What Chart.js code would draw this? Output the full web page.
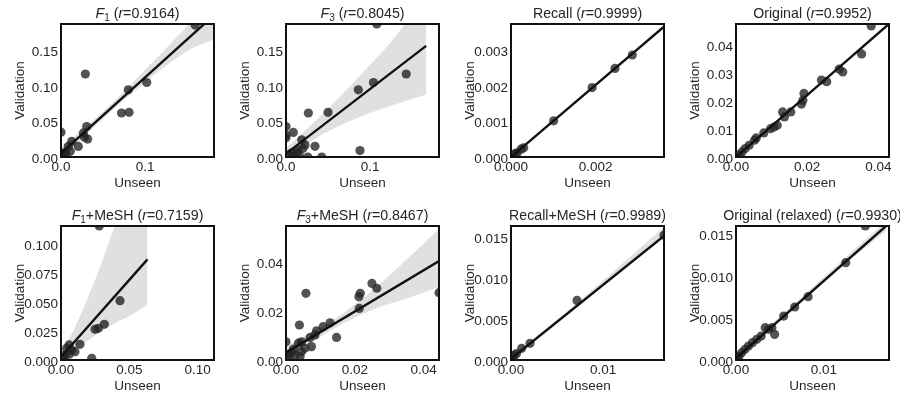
<!DOCTYPE html>
<html><head><meta charset="utf-8">
<script src="https://cdn.jsdelivr.net/npm/chart.js@4.4.0/dist/chart.umd.min.js"></script>
<style>
body{margin:0;background:#fff;width:907px;height:398px;overflow:hidden;position:relative}
canvas{position:absolute}
</style>
</head><body>
<canvas id="c1"></canvas><canvas id="c2"></canvas><canvas id="c3"></canvas><canvas id="c4"></canvas>
<canvas id="c5"></canvas><canvas id="c6"></canvas><canvas id="c7"></canvas><canvas id="c8"></canvas>
<script>
// ---------- Panel 1: F1 ----------
const p1Title = [["F","i"],["1","sub"],[" ("],["r","i"],["=0.9164)"]];
const p1X = [0.1595,0.102,0.080,0.072,0.081,0.029,0.0306,0.0266,0.0317,0.028,0.0206,0.0127,0.0,0.0087,0.0048,0.011,0.0028,0.003,0.001,0.006];
const p1Y = [0.186,0.105,0.0947,0.062,0.063,0.117,0.043,0.034,0.0253,0.028,0.0149,0.022,0.035,0.015,0.0056,0.008,0.001,0.006,0.002,0.003];
const p1XMax = 0.182, p1YMax = 0.1875;
const p1XTicks = [0,0.1], p1XLabels = ["0.0","0.1"];
const p1YTicks = [0,0.05,0.1,0.15], p1YLabels = ["0.00","0.05","0.10","0.15"];
const p1LineX = [0,0.182], p1LineY = [0.005,0.2];
const p1BandX = [0,0.05,0.1,0.15,0.182];
const p1BandLo = [-0.003,0.054,0.105,0.149,0.166];
const p1BandHi = [0.013,0.064,0.123,0.185,0.232];

// ---------- Panel 2: F3 ----------
const p2Title = [["F","i"],["3","sub"],[" ("],["r","i"],["=0.8045)"]];
const p2X = [0.108,0.143,0.104,0.086,0.088,0.050,0.0266,0.0345,0.0425,0.026,0.0087,0.0,0.0,0.0,0.0187,0.0226,0.020,0.014,0.013,0.007,0.0087,0.003,0.016];
const p2Y = [0.1875,0.117,0.105,0.0947,0.009,0.063,0.062,0.015,0.0,0.0,0.0346,0.043,0.031,0.027,0.0243,0.017,0.012,0.010,0.006,0.006,0.001,0.003,0.002];
const p2XMax = 0.182, p2YMax = 0.1875;
const p2XTicks = [0,0.1], p2XLabels = ["0.0","0.1"];
const p2YTicks = [0,0.05,0.1,0.15], p2YLabels = ["0.00","0.05","0.10","0.15"];
const p2LineX = [0,0.1667], p2LineY = [0.0047,0.1566];
const p2BandX = [0,0.03,0.06,0.1,0.13,0.1667];
const p2BandLo = [-0.005,0.022,0.042,0.062,0.074,0.088];
const p2BandHi = [0.012,0.045,0.08,0.13,0.17,0.23];

// ---------- Panel 3: Recall ----------
const p3Title = [["Recall ("],["r","i"],["=0.9999)"]];
const p3X = [0.00287,0.00246,0.00192,0.00101,0.0003,0.00024,0.0001,0.00005,0.00015];
const p3Y = [0.00288,0.0025,0.00196,0.00102,0.00026,0.00022,0.0001,0.00005,0.00012];
const p3XMax = 0.00362, p3YMax = 0.003755;
const p3XTicks = [0,0.002], p3XLabels = ["0.000","0.002"];
const p3YTicks = [0,0.001,0.002,0.003], p3YLabels = ["0.000","0.001","0.002","0.003"];
const p3LineX = [0,0.00362], p3LineY = [0,0.00368];
const p3BandX = [0,0.0018,0.00362];
const p3BandLo = [-0.00002,0.00182,0.00364];
const p3BandHi = [0.00002,0.00186,0.00373];

// ---------- Panel 4: Original ----------
const p4Title = [["Original ("],["r","i"],["=0.9952)"]];
const p4X = [0.0380,0.0353,0.0290,0.0300,0.0240,0.0255,0.0191,0.0188,0.0184,0.0154,0.0131,0.0136,0.0116,0.0107,0.0097,0.0078,0.0057,0.0052,0.0037,0.0026,0.0017,0.0009];
const p4Y = [0.0468,0.0368,0.0314,0.0304,0.0275,0.0269,0.0227,0.0203,0.0189,0.0161,0.0161,0.0143,0.0113,0.0107,0.0101,0.0086,0.0068,0.006,0.0042,0.003,0.0018,0.0008];
const p4XMax = 0.043, p4YMax = 0.0475;
const p4XTicks = [0,0.02,0.04], p4XLabels = ["0.00","0.02","0.04"];
const p4YTicks = [0,0.01,0.02,0.03,0.04], p4YLabels = ["0.00","0.01","0.02","0.03","0.04"];
const p4LineX = [0,0.043], p4LineY = [0.0,0.0475];
const p4BandX = [0,0.0215,0.043];
const p4BandLo = [-0.0004,0.0235,0.0468];
const p4BandHi = [0.0004,0.0240,0.0485];

// ---------- Panel 5: F1+MeSH ----------
const p5Title = [["F","i"],["1","sub"],["+MeSH ("],["r","i"],["=0.7159)"]];
const p5X = [0.028,0.0432,0.0317,0.0249,0.0273,0.0139,0.0059,0.0041,0.0078,0.0102,0.0225,0.0029,0.0022,0.006,0.001];
const p5Y = [0.1159,0.0513,0.0309,0.0265,0.0274,0.0136,0.013,0.0101,0.0086,0.0072,0.0015,0.0043,0.0017,0.005,0.001];
const p5XMax = 0.112, p5YMax = 0.1159;
const p5XTicks = [0,0.05,0.1], p5XLabels = ["0.00","0.05","0.10"];
const p5YTicks = [0,0.025,0.05,0.075,0.1], p5YLabels = ["0.000","0.025","0.050","0.075","0.100"];
const p5LineX = [0,0.0633], p5LineY = [0.0026,0.087];
const p5BandX = [0,0.01,0.02,0.03,0.04,0.05,0.0633];
const p5BandLo = [-0.002,0.008,0.017,0.025,0.032,0.038,0.0475];
const p5BandHi = [0.006,0.028,0.055,0.085,0.118,0.15,0.19];

// ---------- Panel 6: F3+MeSH ----------
const p6Title = [["F","i"],["3","sub"],["+MeSH ("],["r","i"],["=0.8467)"]];
const p6X = [0.0445,0.0250,0.0264,0.0216,0.0212,0.0213,0.0058,0.0128,0.0108,0.0089,0.0084,0.0147,0.0070,0.0074,0.0039,0.0036,0.0045,0.0,0.0045,0.0041,0.0026,0.0016,0.0055,0.0009,0.0005,0.0022];
const p6Y = [0.0277,0.0315,0.0295,0.0274,0.026,0.0212,0.0274,0.0153,0.0137,0.012,0.0103,0.0093,0.0093,0.0055,0.0144,0.0069,0.0075,0.0075,0.0034,0.0014,0.002,0.003,0.0048,0.001,0.002,0.0045];
const p6XMax = 0.0445, p6YMax = 0.0551;
const p6XTicks = [0,0.02,0.04], p6XLabels = ["0.00","0.02","0.04"];
const p6YTicks = [0,0.02,0.04], p6YLabels = ["0.00","0.02","0.04"];
const p6LineX = [0,0.0445], p6LineY = [0.003,0.0407];
const p6BandX = [0,0.0089,0.0178,0.0267,0.0356,0.0445];
const p6BandLo = [0.0005,0.0085,0.0158,0.0215,0.0255,0.030];
const p6BandHi = [0.0055,0.0125,0.0205,0.0305,0.042,0.054];

// ---------- Panel 7: Recall+MeSH ----------
const p7Title = [["Recall+MeSH ("],["r","i"],["=0.9989)"]];
const p7X = [0.0166,0.00716,0.00207,0.00116,0.0006,0.0004,0.0002,0.0001];
const p7Y = [0.0153,0.0073,0.00204,0.00143,0.0008,0.0006,0.0004,0.0002];
const p7XMax = 0.0166, p7YMax = 0.01643;
const p7XTicks = [0,0.01], p7XLabels = ["0.00","0.01"];
const p7YTicks = [0,0.005,0.01,0.015], p7YLabels = ["0.000","0.005","0.010","0.015"];
const p7LineX = [0,0.0166], p7LineY = [0.00016,0.0152];
const p7BandX = [0,0.008,0.0166];
const p7BandLo = [0.0,0.0073,0.0150];
const p7BandHi = [0.0003,0.0078,0.0163];

// ---------- Panel 8: Original (relaxed) ----------
const p8Title = [["Original (relaxed) ("],["r","i"],["=0.9930)"]];
const p8X = [0.0147,0.01248,0.0082,0.00668,0.00542,0.00439,0.00408,0.00332,0.0037,0.00286,0.00237,0.00187,0.00141,0.00103,0.00065,0.00034,0.0002];
const p8Y = [0.016,0.01162,0.00756,0.00633,0.00525,0.00306,0.00386,0.00386,0.00366,0.00286,0.00247,0.00207,0.00167,0.00127,0.00088,0.00048,0.0003];
const p8XMax = 0.0174, p8YMax = 0.016;
const p8XTicks = [0,0.01], p8XLabels = ["0.00","0.01"];
const p8YTicks = [0,0.005,0.01,0.015], p8YLabels = ["0.000","0.005","0.010","0.015"];
const p8LineX = [0,0.01706], p8LineY = [0.0002,0.016];
const p8BandX = [0,0.0085,0.01706];
const p8BandLo = [-0.0001,0.0081,0.0154];
const p8BandHi = [0.0005,0.0085,0.0166];

// ---------- assemble ----------
const panels = [
  [p1Title,p1X,p1Y,p1XMax,p1YMax,p1XTicks,p1XLabels,p1YTicks,p1YLabels,p1LineX,p1LineY,p1BandX,p1BandLo,p1BandHi],
  [p2Title,p2X,p2Y,p2XMax,p2YMax,p2XTicks,p2XLabels,p2YTicks,p2YLabels,p2LineX,p2LineY,p2BandX,p2BandLo,p2BandHi],
  [p3Title,p3X,p3Y,p3XMax,p3YMax,p3XTicks,p3XLabels,p3YTicks,p3YLabels,p3LineX,p3LineY,p3BandX,p3BandLo,p3BandHi],
  [p4Title,p4X,p4Y,p4XMax,p4YMax,p4XTicks,p4XLabels,p4YTicks,p4YLabels,p4LineX,p4LineY,p4BandX,p4BandLo,p4BandHi],
  [p5Title,p5X,p5Y,p5XMax,p5YMax,p5XTicks,p5XLabels,p5YTicks,p5YLabels,p5LineX,p5LineY,p5BandX,p5BandLo,p5BandHi],
  [p6Title,p6X,p6Y,p6XMax,p6YMax,p6XTicks,p6XLabels,p6YTicks,p6YLabels,p6LineX,p6LineY,p6BandX,p6BandLo,p6BandHi],
  [p7Title,p7X,p7Y,p7XMax,p7YMax,p7XTicks,p7XLabels,p7YTicks,p7YLabels,p7LineX,p7LineY,p7BandX,p7BandLo,p7BandHi],
  [p8Title,p8X,p8Y,p8XMax,p8YMax,p8XTicks,p8XLabels,p8YTicks,p8YLabels,p8LineX,p8LineY,p8BandX,p8BandLo,p8BandHi]
];

const FAM = "'Liberation Sans', Arial, Helvetica, sans-serif";
const TXT = '#262626';
const COL_LEFT = [61,286,511,736];
const ROW_TOP = [24,226];
const ROW_H = [133,134];
const PLOT_W = 153;
const Y_AXIS_W = 61, X_AXIS_H = 42, TOP_PAD = 24, CANVAS_W = 225;

const framePlugin = {
  id:'frame',
  afterDatasetsDraw(chart){
    const {ctx, chartArea:a} = chart;
    ctx.save();
    ctx.strokeStyle = '#111';
    ctx.lineWidth = 2;
    ctx.strokeRect(a.left, a.top, a.right - a.left, a.bottom - a.top);
    ctx.restore();
  }
};
const richTitlePlugin = {
  id:'richTitle',
  afterDraw(chart, args, opts){
    const segs = opts.segs; if(!segs) return;
    const {ctx, chartArea:a} = chart;
    ctx.save();
    ctx.fillStyle = TXT;
    ctx.textBaseline = 'alphabetic';
    const fontOf = s => (s[1]==='i' ? 'italic ' : '') + (s[1]==='sub' ? '10px ' : '14.2px ') + FAM;
    let total = 0;
    segs.forEach(s => { ctx.font = fontOf(s); total += ctx.measureText(s[0]).width; });
    let x = (a.left + a.right)/2 - total/2;
    const base = a.top - 6.5;
    segs.forEach(s => {
      ctx.font = fontOf(s);
      ctx.fillText(s[0], x, s[1]==='sub' ? base + 3 : base);
      x += ctx.measureText(s[0]).width;
    });
    ctx.restore();
  }
};

panels.forEach((p, idx) => {
  const [title,X,Y,xMax,yMax,xT,xL,yT,yL,lx,ly,bx,blo,bhi] = p;
  const col = idx % 4, row = Math.floor(idx/4);
  const cv = document.getElementById('c'+(idx+1));
  const h = TOP_PAD + ROW_H[row] + X_AXIS_H;
  cv.width = CANVAS_W; cv.height = h;
  cv.style.left = (COL_LEFT[col] - Y_AXIS_W) + 'px';
  cv.style.top = (ROW_TOP[row] - TOP_PAD) + 'px';
  const pts = X.map((v,i)=>({x:v, y:Y[i]}));
  const line = lx.map((v,i)=>({x:v, y:ly[i]}));
  const hi = bx.map((v,i)=>({x:v, y:bhi[i]}));
  const lo = bx.map((v,i)=>({x:v, y:blo[i]}));
  const tickFont = {family:FAM, size:13.5};
  new Chart(cv.getContext('2d'), {
    type:'scatter',
    data:{datasets:[
      {type:'line', data:hi, fill:'+1', backgroundColor:'rgba(0,0,0,0.12)', borderColor:'rgba(0,0,0,0)', borderWidth:0, pointRadius:0, tension:0.4, order:2, clip:0},
      {type:'line', data:lo, fill:false, borderColor:'rgba(0,0,0,0)', borderWidth:0, pointRadius:0, tension:0.4, order:2, clip:0},
      {data:pts, pointRadius:4.6, pointHoverRadius:4.6, backgroundColor:'rgba(40,40,40,0.8)', borderColor:'rgba(40,40,40,0.8)', borderWidth:0, order:3, clip:0},
      {type:'line', data:line, borderColor:'#111', borderWidth:2.4, pointRadius:0, fill:false, order:1, clip:0}
    ]},
    options:{
      responsive:false, animation:false, devicePixelRatio:1,
      layout:{padding:{top:TOP_PAD, left:0, right:CANVAS_W - Y_AXIS_W - PLOT_W, bottom:0}},
      plugins:{legend:{display:false}, tooltip:{enabled:false}, title:{display:false}, richTitle:{segs:title}},
      scales:{
        x:{type:'linear', min:0, max:xMax,
           grid:{display:false, drawTicks:false}, border:{display:false},
           ticks:{autoSkip:false, maxRotation:0, minRotation:0, padding:2, color:TXT, font:tickFont,
                  callback:(v)=>{const k=xT.findIndex(t=>Math.abs(t-v)<1e-12); return k>=0?xL[k]:'';}},
           title:{display:true, text:'Unseen', color:TXT, font:{family:FAM,size:13.5}, padding:{top:8,bottom:8}},
           afterBuildTicks:(s)=>{s.ticks = xT.map(v=>({value:v}));},
           afterFit:(s)=>{s.height = X_AXIS_H;}},
        y:{type:'linear', min:0, max:yMax,
           grid:{display:false, drawTicks:false}, border:{display:false},
           ticks:{autoSkip:false, padding:3, labelOffset:2, color:TXT, font:tickFont,
                  callback:(v)=>{const k=yT.findIndex(t=>Math.abs(t-v)<1e-12); return k>=0?yL[k]:'';}},
           title:{display:true, text:'Validation', color:TXT, font:{family:FAM,size:13.5}, padding:{top:12,bottom:12}},
           afterBuildTicks:(s)=>{s.ticks = yT.map(v=>({value:v}));},
           afterFit:(s)=>{s.width = Y_AXIS_W;}}
      }
    },
    plugins:[framePlugin, richTitlePlugin]
  });
});
</script>
</body></html>
